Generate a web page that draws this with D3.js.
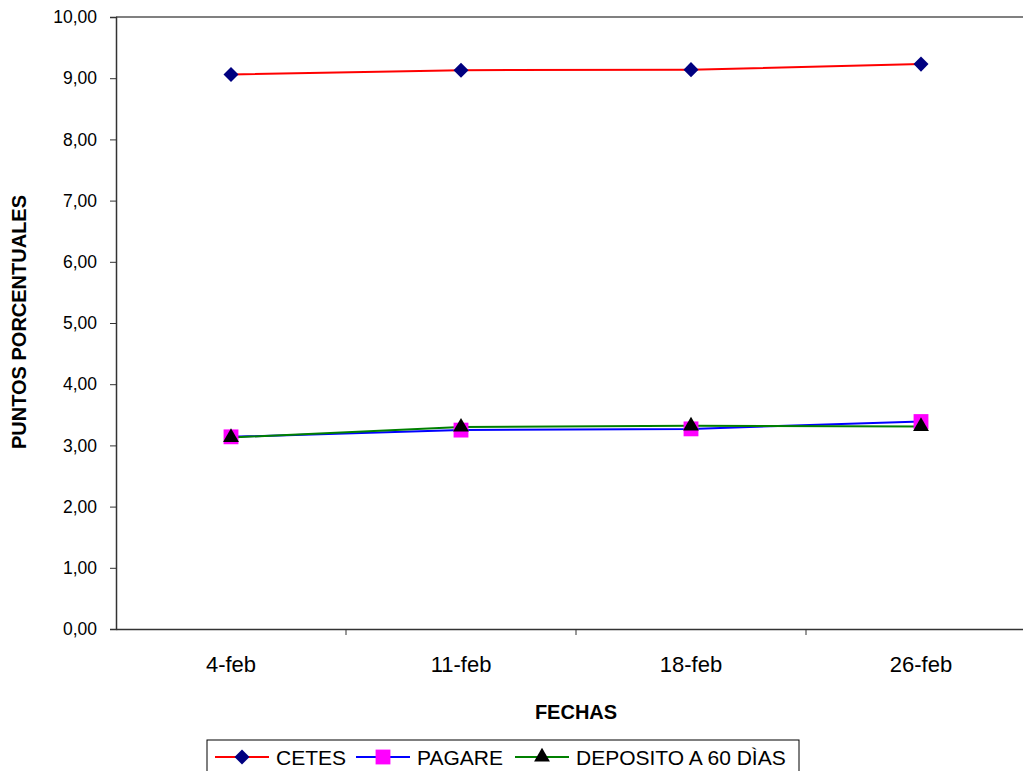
<!DOCTYPE html>
<html>
<head>
<meta charset="utf-8">
<script src="https://cdn.jsdelivr.net/npm/d3@7"></script>
<style>
  body { margin: 0; background: #fff; }
  svg { display: block; font-family: Arial, "Liberation Sans", sans-serif; }
</style>
</head>
<body>
<svg width="1023" height="771"></svg>
<script>
const fechas = ["4-feb", "11-feb", "18-feb", "26-feb"];
const cetes = [9.06, 9.13, 9.14, 9.23];
const pagare = [3.14, 3.25, 3.27, 3.39];
const deposito = [3.13, 3.30, 3.32, 3.31];
const yTicks = [0, 1, 2, 3, 4, 5, 6, 7, 8, 9, 10];

const svg = d3.select("svg");

const plotLeft = 116, plotRight = 1036, plotTop = 17, plotBottom = 629;

const x = d3.scaleBand().domain(fechas).range([plotLeft, plotRight]);
const y = d3.scaleLinear().domain([0, 10]).range([plotBottom, plotTop]);

const fmt = d => d3.format(".2f")(d).replace(".", ",");

// top border of plot area
svg.append("line")
  .attr("x1", plotLeft).attr("x2", 1023)
  .attr("y1", plotTop).attr("y2", plotTop)
  .attr("stroke", "#808080").attr("stroke-width", 2);

// y axis
const yAxis = svg.append("g")
  .attr("transform", `translate(${plotLeft},0)`)
  .call(d3.axisLeft(y).tickValues(yTicks).tickFormat(fmt).tickSizeOuter(0).tickSize(6).tickPadding(13));
yAxis.select(".domain").attr("stroke", "#333").attr("stroke-width", 1.5);
yAxis.selectAll(".tick line").attr("stroke", "#333");
yAxis.selectAll("text").attr("font-size", 17.5).attr("fill", "#000")
  .attr("font-family", "Arial, 'Liberation Sans', sans-serif");

// x axis with ticks between categories
const xAxis = svg.append("g")
  .attr("transform", `translate(0,${plotBottom})`)
  .call(d3.axisBottom(x).tickSize(0).tickSizeOuter(0));
xAxis.select(".domain").attr("stroke", "#333").attr("stroke-width", 1.5);
xAxis.selectAll("text")
  .attr("y", 43).attr("dy", 0)
  .attr("font-size", 22).attr("fill", "#000")
  .attr("font-family", "Arial, 'Liberation Sans', sans-serif");
xAxis.selectAll(".sep")
  .data(fechas.slice(1))
  .enter()
  .append("line")
  .attr("x1", d => x(d)).attr("x2", d => x(d))
  .attr("y1", 0).attr("y2", 6)
  .attr("stroke", "#333");

// axis titles
svg.append("text")
  .attr("x", 576).attr("y", 719)
  .attr("text-anchor", "middle")
  .attr("font-size", 20).attr("font-weight", "bold")
  .text("FECHAS");

svg.append("text")
  .attr("transform", "translate(26,322) rotate(-90)")
  .attr("text-anchor", "middle")
  .attr("font-size", 20).attr("font-weight", "bold")
  .text("PUNTOS PORCENTUALES");

const series = [
  { name: "CETES", values: cetes, line: "#FF0000", marker: "#000080", shape: d3.symbolDiamond2, size: 144 },
  { name: "PAGARE", values: pagare, line: "#0000FF", marker: "#FF00FF", shape: d3.symbolSquare2, size: 280 },
  { name: "DEPOSITO A 60 DÌAS", values: deposito, line: "#008000", marker: "#000000", shape: d3.symbolTriangle2, size: 180 }
];

const cx = d => x(d) + x.bandwidth() / 2;
const line = d3.line().x(d => cx(d.f)).y(d => y(d.v));

series.forEach(s => {
  const pts = fechas.map((f, i) => ({ f, v: s.values[i] }));
  svg.append("path")
    .attr("d", line(pts))
    .attr("fill", "none")
    .attr("stroke", s.line)
    .attr("stroke-width", 2);
});

series.forEach(s => {
  const pts = fechas.map((f, i) => ({ f, v: s.values[i] }));
  svg.selectAll(null)
    .data(pts)
    .enter()
    .append("path")
    .attr("transform", d => `translate(${cx(d.f)},${y(d.v)})`)
    .attr("d", d3.symbol().type(s.shape).size(s.size))
    .attr("fill", s.marker);
});

// legend
const legend = svg.append("g");
legend.append("rect")
  .attr("x", 207).attr("y", 740)
  .attr("width", 592).attr("height", 40)
  .attr("fill", "#fff").attr("stroke", "#000").attr("stroke-width", 1);

const legendPos = [215, 356, 515];
series.forEach((s, i) => {
  const g = legend.append("g").attr("transform", `translate(${legendPos[i]},757)`);
  g.append("line").attr("x1", 0).attr("x2", 54).attr("y1", 0).attr("y2", 0)
    .attr("stroke", s.line).attr("stroke-width", 2);
  g.append("path").attr("transform", "translate(27,0)")
    .attr("d", d3.symbol().type(s.shape).size(s.size))
    .attr("fill", s.marker);
  g.append("text").attr("x", 61).attr("y", 8)
    .attr("font-size", 21).text(s.name);
});
</script>
</body>
</html>
